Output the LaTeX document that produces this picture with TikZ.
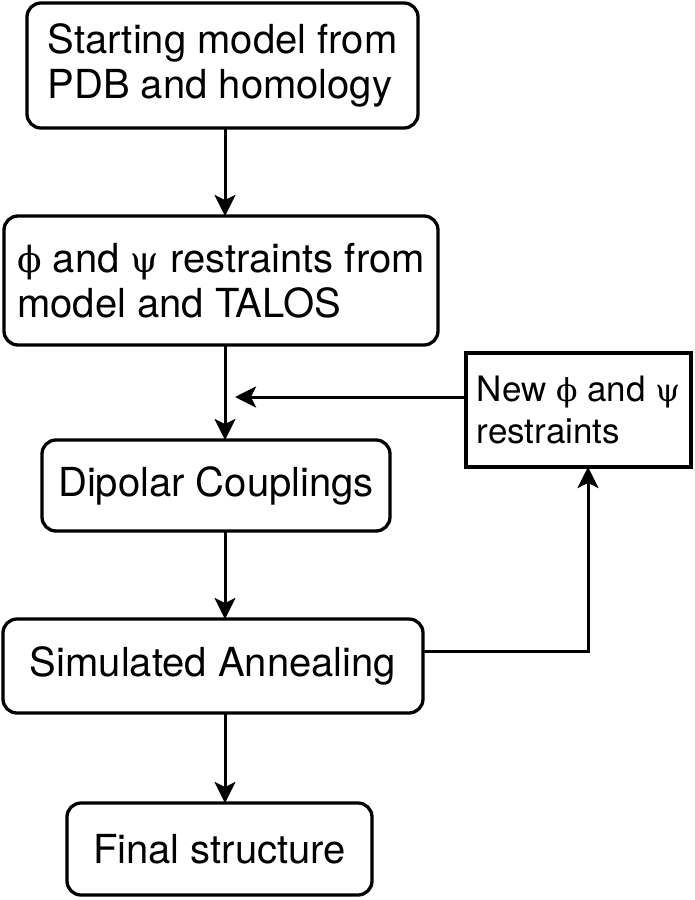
\documentclass[tikz,border=0pt]{standalone}
\usepackage{fontspec}
\setmainfont{TeX Gyre Heros}
\newfontfamily\grk[Scale=0.9]{DejaVu Serif}
\usetikzlibrary{arrows.meta}
\begin{document}
\begin{tikzpicture}[x=1pt,y=-1pt,
  rbox/.style={draw,line width=3.3pt,rounded corners=14pt,inner sep=0pt,align=left,
    font=\fontsize{40}{45}\selectfont},
  sbox/.style={draw,line width=3.3pt,inner sep=0pt,align=left,
    font=\fontsize{35}{42}\selectfont},
  conn/.style={line width=3pt},
  arr/.style={conn,-{Stealth[length=21pt,width=21pt,inset=5pt]}}]
\useasboundingbox (0,0) rectangle (695,900);
\node[rbox,minimum width=391pt,minimum height=125pt] (start) at (222.5,65.5)
  {Starting model from\\PDB and homology};
\node[rbox,minimum width=434pt,minimum height=129pt] (talos) at (221,280.5)
  {{\grk ϕ} and {\grk ψ} restraints from\\model and TALOS};
\node[rbox,minimum width=348pt,minimum height=91pt] (dip) at (216,485.5)
  {Dipolar Couplings};
\node[rbox,minimum width=420pt,minimum height=94pt] (sim) at (213,666)
  {Simulated Annealing};
\node[rbox,minimum width=305pt,minimum height=92pt] (final) at (219.5,849)
  {Final structure};
\node[sbox,minimum width=225pt,minimum height=114pt] (new) at (578.5,410)
  {New {\grk ϕ} and {\grk ψ}\\restraints};
\coordinate (t1) at (225,128);
\coordinate (t2) at (225,216);
\coordinate (t3) at (225,345);
\coordinate (t4) at (225,440);
\coordinate (t5) at (225,531);
\coordinate (t6) at (225,619);
\coordinate (t7) at (225,713);
\coordinate (t8) at (225,803);
\coordinate (nw) at (466,397);
\coordinate (jn) at (235,397);
\coordinate (se) at (423,651);
\coordinate (up) at (588,651);
\coordinate (nb) at (588,467);
\draw[arr] (t1) -- (t2);
\draw[arr] (t3) -- (t4);
\draw[arr] (t5) -- (t6);
\draw[arr] (t7) -- (t8);
\draw[arr] (nw) -- (jn);
\draw[arr] (se) -- (up) -- (nb);
\end{tikzpicture}
\end{document}
